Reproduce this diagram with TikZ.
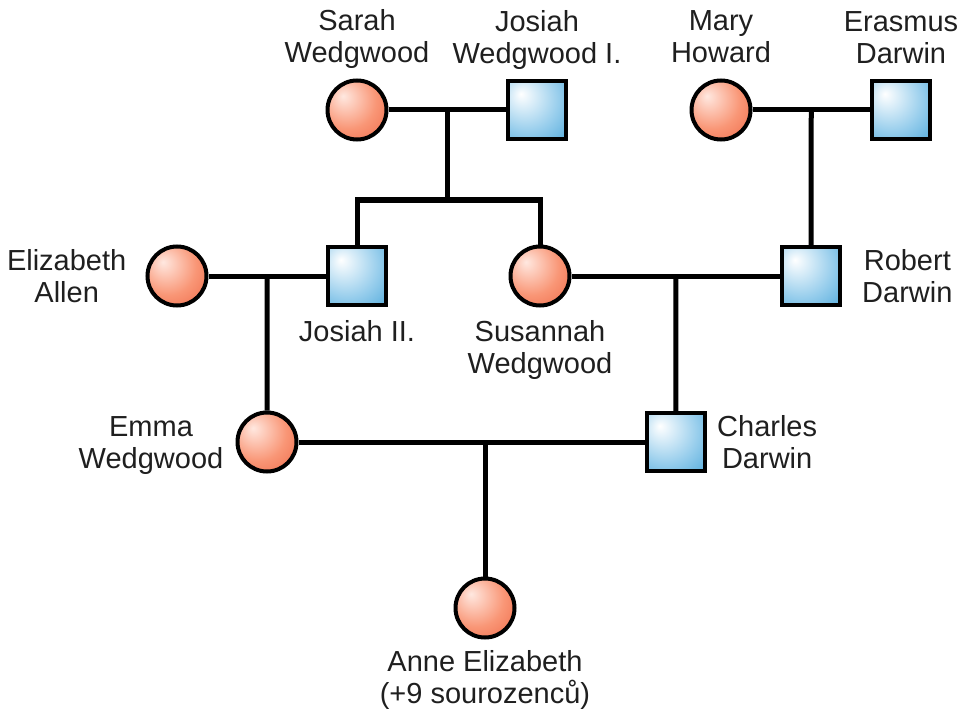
\documentclass[tikz,border=0pt]{standalone}
\usepackage{fontspec}
\setmainfont{Liberation Sans}
\usetikzlibrary{positioning}
\definecolor{femcore}{RGB}{255,232,224}
\definecolor{femmid}{RGB}{249,150,118}
\definecolor{femedge}{RGB}{234,84,50}
\definecolor{malcore}{RGB}{255,255,255}
\definecolor{malmid}{RGB}{150,205,236}
\definecolor{maledge}{RGB}{22,140,204}
\pgfdeclareradialshading{femball}{\pgfpoint{-12bp}{12bp}}{color(0bp)=(femcore); color(24bp)=(femmid); color(52bp)=(femedge); color(70bp)=(femedge)}
\pgfdeclareradialshading{malbox}{\pgfpoint{-14bp}{14bp}}{color(0bp)=(malcore); color(28bp)=(malmid); color(64bp)=(maledge); color(80bp)=(maledge)}

\begin{document}
\begin{tikzpicture}[x=1pt, y=-1pt,
    female/.style={draw, circle, line width=4pt, minimum size=59pt, inner sep=0pt, shading=femball},
    male/.style={draw, rectangle, line width=4pt, minimum size=58pt, inner sep=0pt, shading=malbox},
    link/.style={line width=5pt},
    lbl/.style={font=\fontsize{29}{32}\selectfont, align=center, inner sep=0pt, text=black!88,
        execute at begin node=\strut, execute at end node=\strut},
    side/.style={lbl, yshift=-5pt}
]
\useasboundingbox (0,0) rectangle (963,714);
\node[female] (sarah) at (357,110) {};
\node[male] (josiahI) at (537,110) {};
\node[female] (mary) at (721,110) {};
\node[male] (erasmus) at (901,110) {};
\node[female] (elizabeth) at (177,276) {};
\node[male] (josiahII) at (357,276) {};
\node[female] (susannah) at (540,276) {};
\node[male] (robert) at (811,276) {};
\node[female] (emma) at (267,442) {};
\node[male] (charles) at (676,442) {};
\node[female] (anne) at (485,608) {};

\node[lbl, above=6pt of sarah] (sarahlbl) {Sarah\\Wedgwood};
\node[lbl, above=6pt of josiahI] (josiahIlbl) {Josiah\\Wedgwood I.};
\node[lbl, above=6pt of mary] (marylbl) {Mary\\Howard};
\node[lbl, above=6pt of erasmus] (erasmuslbl) {Erasmus\\Darwin};
\node[side, left=19pt of elizabeth] (elizabethlbl) {Elizabeth\\Allen};
\node[lbl, below=12pt of josiahII] (josiahIIlbl) {Josiah II.};
\node[lbl, below=12.5pt of susannah] (susannahlbl) {Susannah\\Wedgwood};
\node[side, right=20pt of robert] (robertlbl) {Robert\\Darwin};
\node[side, left=12pt of emma] (emmalbl) {Emma\\Wedgwood};
\node[side, right=10pt of charles] (charleslbl) {Charles\\Darwin};
\node[lbl, below=10.5pt of anne] (annelbl) {Anne Elizabeth\\(+9 sourozenců)};

\draw[link] (sarah) -- coordinate[midway] (m1) (josiahI);
\draw[link] (mary) -- coordinate[midway] (m2) (erasmus);
\draw[link] (elizabeth) -- coordinate[midway] (m3) (josiahII);
\draw[link] (susannah) -- coordinate[midway] (m4) (robert);
\draw[link] (emma) -- (charles);
\draw[link] (m1) -- ++(0,90) coordinate (sib);
\draw[link] (josiahII) |- (sib) -| (susannah);
\draw[link] (m2) -- (robert);
\draw[link] (m3) -- (emma);
\draw[link] (m4) -- (charles);
\draw[link] (anne |- emma) -- (anne);
\end{tikzpicture}
\end{document}
